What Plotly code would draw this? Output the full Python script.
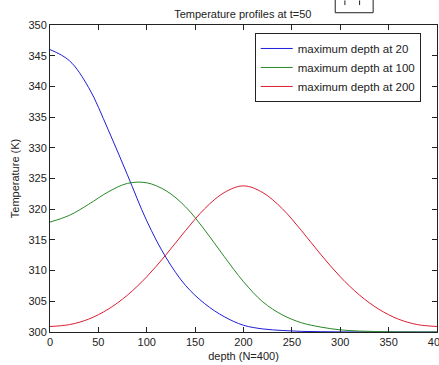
import plotly.graph_objects as go

depth = [0, 20, 40, 60, 80, 100, 120, 140, 160, 180, 200, 220, 240, 260, 280, 300, 320, 340, 360, 380, 400]
temp_20 = [346.0, 344.2, 339.8, 333.0, 325.6, 318.1, 312.1, 307.6, 304.6, 302.5, 301.1, 300.5, 300.25, 300.1, 300.05, 300.02, 300.01, 300.0, 300.0, 300.0, 300.0]
temp_100 = [317.9, 319.0, 320.8, 322.8, 324.2, 324.3, 323.0, 320.4, 316.6, 312.3, 308.2, 304.9, 302.8, 301.5, 300.8, 300.35, 300.15, 300.06, 300.02, 300.0, 300.0]
temp_200 = [300.9, 301.2, 302.1, 303.7, 306.0, 309.0, 312.6, 316.5, 320.1, 322.7, 323.8, 322.7, 320.1, 316.5, 312.6, 309.0, 306.0, 303.7, 302.1, 301.2, 300.9]

series_names = ["maximum depth at 20", "maximum depth at 100", "maximum depth at 200"]
series_vals = [temp_20, temp_100, temp_200]
colors = ["rgb(30,30,215)", "rgb(40,135,40)", "rgb(220,30,50)"]

x_ticks = [0, 50, 100, 150, 200, 250, 300, 350, 400]
y_ticks = [300, 305, 310, 315, 320, 325, 330, 335, 340, 345, 350]

fig = go.Figure()
for name, vals, c in zip(series_names, series_vals, colors):
    fig.add_trace(go.Scatter(x=depth, y=vals, mode="lines", name=name,
                             line=dict(color=c, width=1, shape="spline", smoothing=1.0)))

font = dict(family="Liberation Sans, Arial, sans-serif", size=11, color="#222")
axis_common = dict(showgrid=False, zeroline=False, showline=True, linecolor="#222", linewidth=1,
                   mirror="ticks", ticks="inside", ticklen=5, tickcolor="#222", tickfont=font,
                   ticklabeloverflow="allow")

fig.update_layout(
    width=439, height=365,
    margin=dict(l=49.5, r=2, t=25, b=33, autoexpand=False),
    paper_bgcolor="white", plot_bgcolor="white",
    font=font,
    title=dict(text="Temperature profiles at t=50", x=0.553, xanchor="center", y=0.962, yanchor="middle",
               font=dict(family="Liberation Sans, Arial, sans-serif", size=11, color="#222")),
    xaxis=dict(range=[0, 400], tickvals=x_ticks, title=dict(text="depth (N=400)", standoff=5, font=font), **axis_common),
    yaxis=dict(range=[300, 350], tickvals=y_ticks, title=dict(text="Temperature (K)", standoff=6, font=font), **axis_common),
    legend=dict(x=0.958, y=0.974, xanchor="right", yanchor="top", bordercolor="#222", borderwidth=1,
                bgcolor="white", font=dict(family="Liberation Sans, Arial, sans-serif", size=11.5, color="#222"),
                tracegroupgap=0, itemwidth=32),
    showlegend=True,
)

# small box artifact at the top
fig.add_shape(type="rect", xref="paper", yref="paper", x0=0.737, x1=0.835, y0=1.040, y1=1.12,
              line=dict(color="#222", width=1), fillcolor="white")
for xp in [0.762, 0.800]:
    fig.add_shape(type="line", xref="paper", yref="paper", x0=xp, x1=xp, y0=1.065, y1=1.08,
                  line=dict(color="#222", width=1))

fig.write_html("out.html", config={"displayModeBar": False},
               post_script="document.body.style.margin='0px';document.body.style.overflow='hidden';")
